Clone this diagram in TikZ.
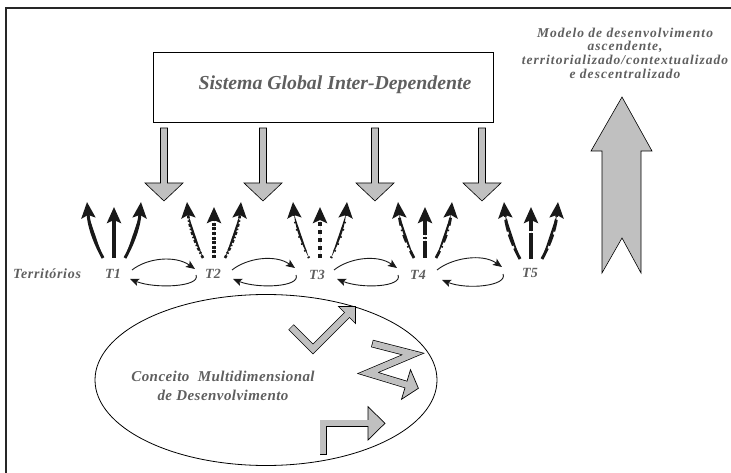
\documentclass[tikz,border=0pt]{standalone}
\usepackage{fontspec}
\setmainfont{Liberation Serif}
\usetikzlibrary{arrows.meta,calc,shapes.geometric}
\definecolor{txtgray}{RGB}{95,95,95}
\definecolor{fillgray}{RGB}{192,192,192}
\definecolor{ink}{RGB}{25,25,25}

\tikzset{
  lbl/.style={text=txtgray, inner sep=0pt},
  graybox/.style={fill=fillgray, draw=black, line width=0.6pt, line join=miter},
  fanhead/.style={-{Stealth[length=16pt,width=14pt,inset=3pt]}},
  fanarrow/.style={fanhead, draw=ink, fill=ink},
  loophead/.style={-{Stealth[length=9pt,width=7.5pt,inset=2pt]}},
  looparrow/.style={loophead, draw=ink, line width=0.9pt},
  bandout/.style={draw=black, line width=7.6pt, line join=miter, line cap=butt},
  bandin/.style={draw=fillgray, line width=6.2pt, line join=miter, line cap=butt, shorten <=0.7pt},
  bandhead/.style={fill=fillgray, draw=black, line width=0.7pt, line join=miter},
}

\begin{document}
\begin{tikzpicture}[x=1pt,y=-1pt]
\useasboundingbox (0,0) rectangle (731,473);

% frame lines
\draw[line width=1.1pt, black!85] (6,473) -- (6,8) -- (731,8);

% global system box
\node[draw, line width=0.7pt, minimum width=340pt, minimum height=70pt, inner sep=0pt] (sysbox) at (323,87) {};
\node[lbl, font=\fontsize{19.8}{22}\selectfont\bfseries\itshape] (systxt) at (335,85) {Sistema Global Inter-Dependente};

% downward gray arrows from the global system
\foreach \c in {164,263,375,482}{
  \draw[graybox] (\c-3.5,128) -- (\c+3.5,128) -- (\c+3.5,183) -- (\c+19,183)
     -- (\c,201) -- (\c-19,183) -- (\c-3.5,183) -- cycle;
}

% big upward arrow
\draw[graybox] (622,97) -- (652,151) -- (641,151) -- (641,273) -- (622,238)
   -- (602,273) -- (602,151) -- (591,151) -- cycle;

\node[lbl, align=center, font=\fontsize{13.5}{13.6}\selectfont\bfseries\itshape\addfontfeature{LetterSpace=7.5}] (modelo) at (625,53)
  {Modelo de desenvolvimento\\ascendente,\\territorializado/contextualizado\\e descentralizado};

% territories
\node[lbl, font=\fontsize{14}{16}\selectfont\bfseries\itshape\addfontfeature{LetterSpace=5}] (terr) at (47,274) {Territórios};
\node[lbl, font=\fontsize{14}{16}\selectfont\bfseries\itshape] (t1) at (113,274) {T1};
\node[lbl, font=\fontsize{14}{16}\selectfont\bfseries\itshape] (t2) at (213,274) {T2};
\node[lbl, font=\fontsize{14}{16}\selectfont\bfseries\itshape] (t3) at (317,275) {T3};
\node[lbl, font=\fontsize{14}{16}\selectfont\bfseries\itshape] (t4) at (418,275) {T4};
\node[lbl, font=\fontsize{14}{16}\selectfont\bfseries\itshape] (t5) at (530,273) {T5};

% roots of the arrow fans above each territory
\coordinate (f1) at (114,258);
\coordinate (f2) at (214,258);
\coordinate (f3) at (320,258);
\coordinate (f4) at (425,258);
\coordinate (f5) at (531,259);

% T1: solid
\draw[fanarrow, line width=3.6pt] (f1) -- ($(f1)+(0,-51)$);
\draw[fanarrow, line width=3pt] ($(f1)+(-11,0)$) to[out=118,in=-85] ($(f1)+(-27,-56)$);
\draw[fanarrow, line width=3pt] ($(f1)+(11,0)$) to[out=62,in=-95] ($(f1)+(27,-56)$);

% T2: dashed
\draw[fanarrow, line width=4pt, dash pattern=on 3pt off 1.6pt] (f2) -- ($(f2)+(0,-51)$);
\draw[fanarrow, line width=2.6pt, dash pattern=on 3pt off 2pt on 1.5pt off 2pt] ($(f2)+(-11,0)$) to[out=118,in=-85] ($(f2)+(-27,-56)$);
\draw[fanarrow, line width=2.6pt, dash pattern=on 3pt off 2pt on 1.5pt off 2pt] ($(f2)+(11,0)$) to[out=62,in=-95] ($(f2)+(27,-56)$);

% T3: dotted
\draw[fanarrow, line width=3.4pt, dash pattern=on 4pt off 4pt] (f3) -- ($(f3)+(0,-51)$);
\draw[fanarrow, line width=2.4pt, dash pattern=on 1.5pt off 6pt] ($(f3)+(-11,0)$) to[out=118,in=-85] ($(f3)+(-27,-56)$);
\draw[fanarrow, line width=2.4pt, dash pattern=on 1.5pt off 6pt] ($(f3)+(11,0)$) to[out=62,in=-95] ($(f3)+(27,-56)$);

% T4: dash-dot
\draw[fanarrow, line width=3.6pt, dash pattern=on 17pt off 2pt on 2pt off 2pt] (f4) -- ($(f4)+(0,-51)$);
\draw[fanarrow, line width=2.8pt, dash pattern=on 8pt off 4pt on 1.5pt off 4pt] ($(f4)+(-11,0)$) to[out=118,in=-85] ($(f4)+(-27,-56)$);
\draw[fanarrow, line width=2.8pt, dash pattern=on 8pt off 4pt on 1.5pt off 4pt] ($(f4)+(11,0)$) to[out=62,in=-95] ($(f4)+(27,-56)$);

% T5: long dashes
\draw[fanarrow, line width=3.6pt, dash pattern=on 26pt off 1.5pt] (f5) -- ($(f5)+(0,-52)$);
\draw[fanarrow, line width=3pt, dash pattern=on 12pt off 3pt] ($(f5)+(-11,0)$) to[out=118,in=-85] ($(f5)+(-27,-57)$);
\draw[fanarrow, line width=3pt, dash pattern=on 12pt off 3pt] ($(f5)+(11,0)$) to[out=62,in=-95] ($(f5)+(27,-57)$);

% exchange loops between neighbouring territories
\coordinate (l1us) at (132,270); \coordinate (l1ue) at (195,269);
\coordinate (l1ls) at (196,275); \coordinate (l1le) at (130,279);
\coordinate (l2us) at (232,270); \coordinate (l2ue) at (295,268);
\coordinate (l2ls) at (296,275); \coordinate (l2le) at (233,279);
\coordinate (l3us) at (334,270); \coordinate (l3ue) at (397,268);
\coordinate (l3ls) at (398,275); \coordinate (l3le) at (337,279);
\coordinate (l4us) at (437,270); \coordinate (l4ue) at (502,267);
\coordinate (l4ls) at (503,274); \coordinate (l4le) at (442,280);
\foreach \k in {1,2,3,4}{
  \draw[looparrow] (l\k us) .. controls ($(l\k us)+(15,-12)$) and ($(l\k ue)+(-20,-14)$) .. (l\k ue);
  \draw[looparrow] (l\k ls) .. controls ($(l\k ls)+(5,12)$) and ($(l\k le)+(25,10)$) .. (l\k le);
}

% multidimensional concept
\node[draw, ellipse, line width=0.8pt, minimum width=342pt, minimum height=171pt, inner sep=0pt] (conc) at (266,380) {};
\node[lbl, align=center, font=\fontsize{15}{19}\selectfont\bfseries\itshape\addfontfeature{LetterSpace=3}] (conctxt) at (223,386)
  {Conceito~ Multidimensional\\de Desenvolvimento};

% bent gray arrows inside the concept
% check-mark arrow
\draw[bandout] (291,327) -- (313,349) -- (347,315);
\draw[bandhead] (338.5,306.5) -- (355.5,306.5) -- (355.5,323.5) -- cycle;
\draw[bandin] (291,327) -- (313,349) -- (348.2,313.8);

% zig-zag arrow
\draw[bandout] (372,343.5) -- (413,354) -- (368,373) -- (406,384.5);
\draw[bandhead] (410.5,369.7) -- (418.4,388.3) -- (401.5,399.3) -- cycle;
\draw[bandin] (372,343.5) -- (413,354) -- (368,373) -- (407.5,385);

% L-shaped arrow
\draw[bandout] (323.3,455) -- (323.3,423.3) -- (368,423.3);
\draw[bandhead] (368,406.7) -- (385,423.3) -- (368,440) -- cycle;
\draw[bandin] (323.3,455) -- (323.3,423.3) -- (369.5,423.3);
\end{tikzpicture}
\end{document}
